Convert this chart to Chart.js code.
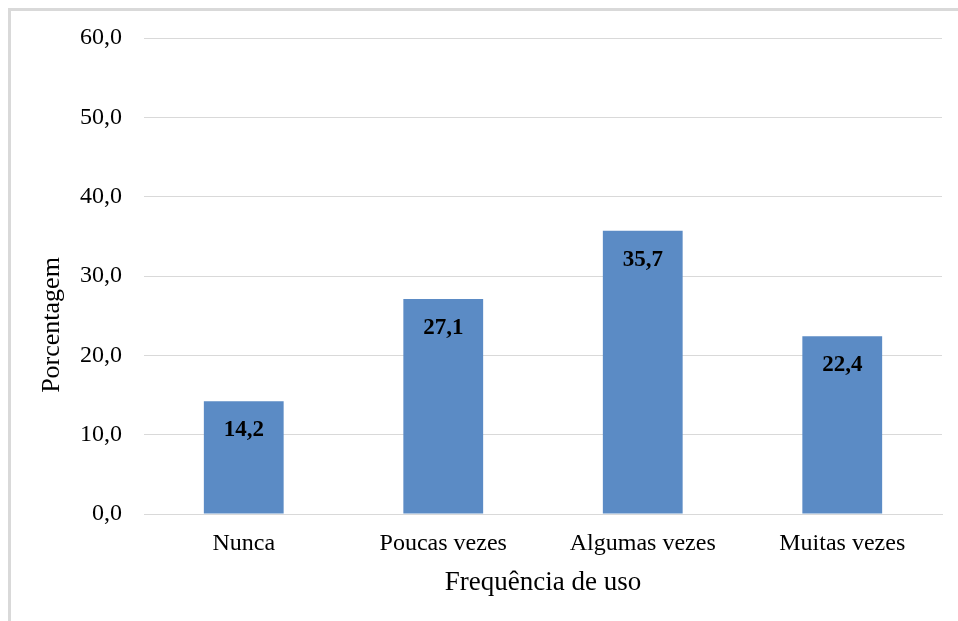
<!DOCTYPE html>
<html>
<head>
<meta charset="utf-8">
<script src="https://cdn.jsdelivr.net/npm/chart.js@4"></script>
<style>
  html, body { margin: 0; padding: 0; background: #fff; }
  #wrap { position: relative; width: 958px; height: 621px; overflow: hidden; }
  #frame { position: absolute; left: 8px; top: 8px; right: -10px; bottom: -10px;
           border-left: 3px solid #d9d9d9; border-top: 3px solid #d9d9d9; }
  canvas { position: absolute; left: 0; top: 0; }
</style>
</head>
<body>
<div id="wrap">
  <div id="frame"></div>
  <canvas id="c" width="958" height="621"></canvas>
</div>
<script>
  // data
  var categories = ['Nunca', 'Poucas vezes', 'Algumas vezes', 'Muitas vezes'];
  var values = [14.2, 27.1, 35.7, 22.4];
  var yTicks = [0, 10, 20, 30, 40, 50, 60];

  var SERIF = "'Liberation Serif', 'Times New Roman', serif";

  function fmt(v) { return v.toFixed(1).replace('.', ','); }

  // value labels just under the top of each bar
  var barLabels = {
    id: 'barLabels',
    afterDatasetsDraw: function(chart) {
      var ctx = chart.ctx;
      var meta = chart.getDatasetMeta(0);
      ctx.save();
      ctx.font = 'bold 23px ' + SERIF;
      ctx.fillStyle = '#000';
      ctx.textAlign = 'center';
      ctx.textBaseline = 'middle';
      meta.data.forEach(function(bar, i) {
        ctx.fillText(fmt(values[i]), bar.x, bar.y + 29);
      });
      ctx.restore();
    }
  };

  // y title sits lower than the plot centre in the reference
  var yTitle = {
    id: 'yTitle',
    afterDraw: function(chart) {
      var ctx = chart.ctx;
      ctx.save();
      ctx.translate(52, 325);
      ctx.rotate(-Math.PI / 2);
      ctx.font = '26px ' + SERIF;
      ctx.fillStyle = '#000';
      ctx.textAlign = 'center';
      ctx.textBaseline = 'middle';
      ctx.fillText('Porcentagem', 0, 0);
      ctx.restore();
    }
  };

  new Chart(document.getElementById('c'), {
    type: 'bar',
    plugins: [barLabels, yTitle],
    data: {
      labels: categories,
      datasets: [{
        data: values,
        backgroundColor: '#5b8bc5',
        borderWidth: 0,
        barPercentage: 0.4,
        categoryPercentage: 1.0
      }]
    },
    options: {
      responsive: false,
      animation: false,
      layout: { padding: { left: 0, right: 16, top: 38, bottom: 10 } },
      plugins: { legend: { display: false }, tooltip: { enabled: false } },
      scales: {
        x: {
          grid: { display: false, drawTicks: false },
          border: { display: true, color: '#d9d9d9', width: 1 },
          ticks: { color: '#000', font: { family: SERIF, size: 24 }, padding: 15, maxRotation: 0 },
          title: {
            display: true, text: 'Frequência de uso', color: '#000',
            font: { family: SERIF, size: 27 }, padding: { top: 0, bottom: 12 }
          },
          afterFit: function(s) { s.height = 97; }
        },
        y: {
          min: 0, max: 60,
          afterBuildTicks: function(s) { s.ticks = yTicks.map(function(v) { return { value: v }; }); },
          grid: { color: '#d9d9d9', lineWidth: 1, drawTicks: false },
          border: { display: false },
          ticks: {
            color: '#000', font: { family: SERIF, size: 24 }, padding: 22,
            callback: function(v) { return fmt(v); }
          },
          afterFit: function(s) { s.width = 144; }
        }
      }
    }
  });
</script>
</body>
</html>
